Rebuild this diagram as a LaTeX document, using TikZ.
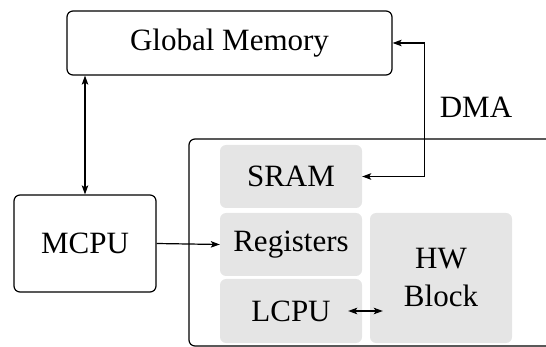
\documentclass[tikz,border=0pt]{standalone}
\usepackage{fontspec}
\setmainfont{Liberation Serif}
\usetikzlibrary{arrows.meta,calc}
\begin{document}
\begin{tikzpicture}[x=1pt,y=-1pt,
  every node/.style={font=\fontsize{31}{38}\selectfont},
  whitebox/.style={draw,line width=1.2pt,rounded corners=6pt,inner sep=0pt},
  graybox/.style={fill=gray!20,rounded corners=6pt,inner sep=0pt,minimum width=142pt},
  conn/.style={line width=1.2pt,{Stealth[length=9pt,width=6.5pt,inset=2pt]}-{Stealth[length=9pt,width=6.5pt,inset=2pt]}},
  oneway/.style={line width=1.2pt,-{Stealth[length=9pt,width=6.5pt,inset=2pt]}}]
\useasboundingbox (0,0) rectangle (546,347);
\clip (0,0) rectangle (546,347);
\node[whitebox,minimum width=325pt,minimum height=64pt] (GM) at (229.5,43) {Global Memory};
\node[whitebox,minimum width=142pt,minimum height=97pt] (MCPU) at (85,243.5) {MCPU};
\draw[line width=1.2pt,rounded corners=6pt] (189,139) rectangle (600,346);
\node[graybox,minimum height=63pt] (SRAM) at (291,176.5) {SRAM};
\node[graybox,minimum height=63pt] (REG) at (291,244.5) {Registers};
\node[graybox,minimum height=64pt] (LCPU) at (291,311) {LCPU};
\node[graybox,minimum height=130pt,align=center] (HW) at (441,278) {HW\\Block};
\node (DMA) at (476,107) {DMA};
\draw[conn] (MCPU.north) -- (MCPU.north |- GM.south);
\draw[oneway] (MCPU.east) -- (REG.west);
\draw[conn] ([xshift=-14pt]LCPU.east) -- ([xshift=13pt]HW.west |- LCPU.east);
\draw[conn] (GM.east) -- ++(32,0) |- (SRAM.east);
\end{tikzpicture}
\end{document}
